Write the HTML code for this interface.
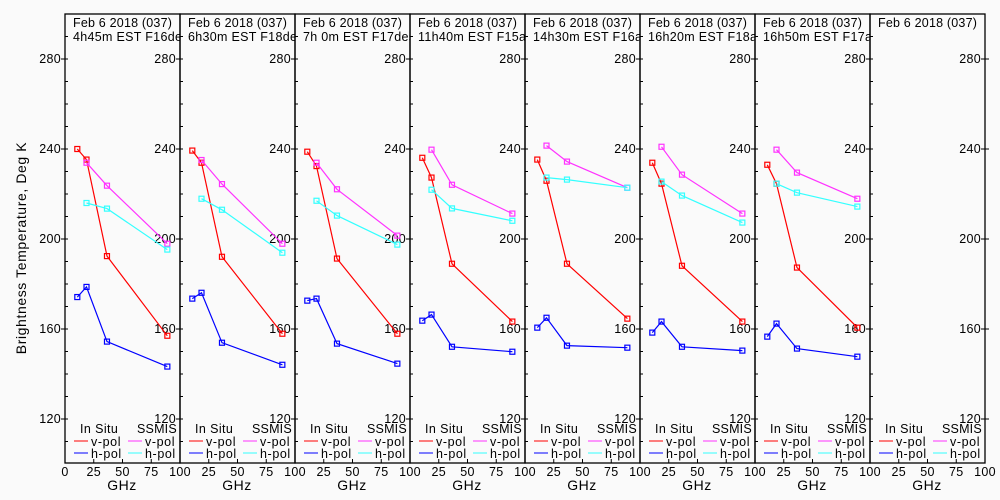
<!DOCTYPE html>
<html><head><meta charset="utf-8"><style>
html,body{margin:0;padding:0;background:#fafafa;}
svg{display:block;font-family:"Liberation Sans",sans-serif;}
</style></head><body>
<svg id="c" width="1000" height="500" xmlns="http://www.w3.org/2000/svg">
<rect width="1000" height="500" fill="#fafafa"/>
<text transform="translate(26,248) rotate(-90)" text-anchor="middle" font-size="14" letter-spacing="0.6" fill="#000">Brightness Temperature, Deg K</text>
</svg>
<script>
const freqs=[10.7,18.7,36.5,89];
const titles1=["Feb 6 2018 (037)","Feb 6 2018 (037)","Feb 6 2018 (037)","Feb 6 2018 (037)","Feb 6 2018 (037)","Feb 6 2018 (037)","Feb 6 2018 (037)","Feb 6 2018 (037)"];
const titles2=["4h45m EST F16des","6h30m EST F18des","7h 0m EST F17des","11h40m EST F15asc","14h30m EST F16asc","16h20m EST F18asc","16h50m EST F17asc",""];
const insituV=[[240,235.3,192.4,157.0],[239.3,233.9,192.1,157.9],[238.8,232.4,191.3,157.9],[236.1,227.3,189,163.3],[235.3,225.9,189,164.6],[233.9,224.6,188.1,163.3],[233,224.6,187.3,160.6],null];
const insituH=[[174.2,178.7,154.4,143.3],[173.5,176.1,153.9,144.1],[172.6,173.5,153.5,144.6],[163.7,166.4,152.1,149.9],[160.6,165,152.6,151.7],[158.4,163.3,152.1,150.4],[156.6,162.4,151.3,147.7],null];
const ssmisV=[[233.9,223.7,197.9],[235.1,224.4,197.9],[233.9,222.1,201.5],[239.7,224.1,211.3],[241.5,234.4,222.8],[241,228.6,211.3],[239.7,229.5,217.9],null];
const ssmisH=[[216,213.5,195.3],[217.9,213,193.9],[217,210.4,197.5],[221.9,213.6,208.1],[227.3,226.4,222.8],[225.5,219.3,207.3],[224.6,220.6,214.4],null];
const yTicks=[120,160,200,240,280];
const xTicks=[0,25,50,75,100];

const svg=document.getElementById('c');
const NS="http://www.w3.org/2000/svg";
const X0=65,PW=115,TOP=14,BOT=463;
const yS=v=>149+(240-v)*2.25;
function el(t,a,p){const e=document.createElementNS(NS,t);for(const k in a)e.setAttribute(k,a[k]);(p||svg).appendChild(e);return e;}
function txt(s,x,y,anchor,p,size,ls){const t=el('text',{x:x,y:y,'text-anchor':anchor||'start','font-size':size||12,'letter-spacing':ls||0,fill:'#000'},p);t.textContent=s;return t;}
const colors={iv:'#ff0000',ih:'#0000ff',sv:'#ff33ff',sh:'#33ffff'};
for(let i=0;i<8;i++){
  const L=X0+i*PW,R=L+PW;
  const xS=f=>L+f*PW/100;
  const g=el('g',{});
  
  
  const cp=el('clipPath',{id:'cp'+i},g);
  el('rect',{x:L,y:TOP,width:PW,height:BOT-TOP},cp);
  el('rect',{x:L,y:TOP,width:PW,height:BOT-TOP,fill:'none',stroke:'#000','stroke-width':1.3},g);
  const t1=txt(titles1[i],L+8,27,'start',g,12.5,0.2);t1.setAttribute('clip-path','url(#cp'+i+')');
  
  const t2=txt(titles2[i],L+8,41,'start',g,12.5,0.3);t2.setAttribute('clip-path','url(#cp'+i+')');
  
  for(let v=110;v<=290;v+=10){el('line',{x1:L,x2:L+3,y1:yS(v),y2:yS(v),stroke:'#000'},g);}
  yTicks.forEach(v=>{
    el('line',{x1:R-4,x2:R,y1:yS(v),y2:yS(v),stroke:'#000'},g);
    const t=txt(String(v),R-4,yS(v)+4,'end',g,12.5,0.3);
    
    if(i===0){el('line',{x1:L-4,x2:L,y1:yS(v),y2:yS(v),stroke:'#000'},g);
      const t0=txt(String(v),L-4,yS(v)+4,'end',g,12.5,0.3);}
    if(i===7){el('line',{x1:R,x2:R+4,y1:yS(v),y2:yS(v),stroke:'#000'},g);}
  });
  xTicks.forEach(f=>{
    if(f===0&&i>0)return;
    el('line',{x1:xS(f),x2:xS(f),y1:BOT,y2:BOT-4,stroke:'#000'},g);
    const t=txt(String(f),xS(f),476,'middle',g,12.5,0.3);
    
  });
  const gx=txt('GHz',L+57,490,'middle',g,14,0.5);
  
  const lg=el('g',{},g);
  
  txt('In  Situ',L+15,433,'start',lg,12.5,0.4);txt('SSMIS',L+72,433,'start',lg,12.5,0.2);
  [['iv',441,'v-pol',L+9],['ih',453,'h-pol',L+9],['sv',441,'v-pol',L+63],['sh',453,'h-pol',L+63]].forEach(a=>{
    el('line',{x1:a[3],x2:a[3]+14,y1:a[1],y2:a[1],stroke:colors[a[0]]},lg);
    txt(a[2],a[3]+17,a[1]+5,'start',lg,12.5,0.6);
  });
  const series=[['iv',insituV[i],freqs],['ih',insituH[i],freqs],['sv',ssmisV[i],freqs.slice(1)],['sh',ssmisH[i],freqs.slice(1)]];
  series.forEach(s=>{
    if(!s[1])return;
    const pts=s[1].map((v,k)=>xS(s[2][k]).toFixed(1)+','+yS(v).toFixed(1)).join(' ');
    const pl=el('polyline',{points:pts,fill:'none',stroke:colors[s[0]],'stroke-width':1.2},g);
    
    
    s[1].forEach((v,k)=>{
      const r=el('rect',{x:xS(s[2][k])-2.5,y:yS(v)-2.5,width:5,height:5,fill:'none',stroke:colors[s[0]],'stroke-width':1.2},g);
      
      
    });
  });
}
</script>
</body></html>
